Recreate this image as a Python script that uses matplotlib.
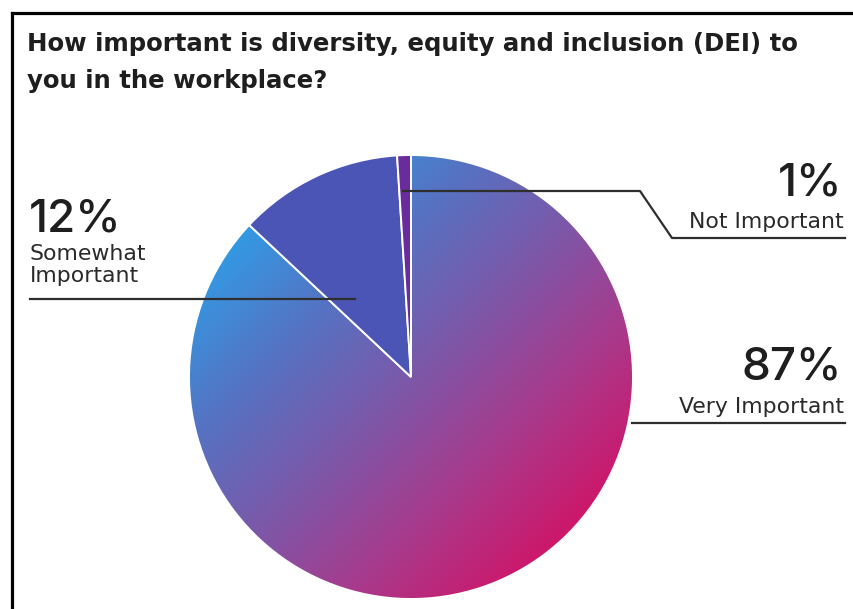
import numpy as np
import matplotlib
matplotlib.use("Agg")
import matplotlib.pyplot as plt
from matplotlib.colors import LinearSegmentedColormap

# Survey results
categories = ["Very Important", "Somewhat\nImportant", "Not Important"]
shares = [87, 12, 1]
slice_colors = [None, "#4b55b5", "#6a2c9c"]
title = "How important is diversity, equity and inclusion (DEI) to\nyou in the workplace?"

W, H = 854, 609
NUM_FONT = ["Inter", "DejaVu Sans"]
TXT_FONT = ["DejaVu Sans"]
TXT = "#1e1e1e"


def Y(py):
    """Convert a top-down pixel row to the axes' bottom-up coordinate."""
    return H - py


fig = plt.figure(figsize=(W / 100, H / 100), dpi=100)
ax = fig.add_axes([0, 0, 1, 1])
renderer = fig.canvas.get_renderer()


def fit_width(txt, width_px):
    """Scale a text's font size so that it spans the given width in pixels."""
    ext = txt.get_window_extent(renderer=renderer)
    txt.set_fontsize(txt.get_fontsize() * width_px / ext.width)


cx, cy, r = 411, Y(377), 222

wedges, _ = ax.pie(
    shares,
    startangle=90,
    counterclock=False,
    center=(cx, cy),
    radius=r,
    colors=["none", slice_colors[1], slice_colors[2]],
    wedgeprops=dict(edgecolor="white", linewidth=1.4),
    frame=True,
)

# Diagonal blue-to-magenta gradient filling the largest slice
grad_cmap = LinearSegmentedColormap.from_list(
    "dei",
    [(0.0, "#3399e3"), (0.25, "#5672c2"), (0.5, "#7c58a9"),
     (0.75, "#a83a8c"), (1.0, "#cd176a")],
)
N = 600
xs = np.linspace(cx - r, cx + r, N)
ys = np.linspace(cy + r, cy - r, N)
X, Yg = np.meshgrid(xs, ys)
s = ((X - cx) - (Yg - cy)) / (np.sqrt(2) * r)
t = np.clip((s + 1) / 2, 0, 1)
img = ax.imshow(t, cmap=grad_cmap, vmin=0, vmax=1, origin="upper",
                extent=(cx - r, cx + r, cy - r, cy + r),
                interpolation="bilinear", zorder=1)
img.set_clip_path(wedges[0])
for w in wedges:
    w.set_zorder(2)

ax.set_xlim(0, W)
ax.set_ylim(0, H)
ax.set_aspect("auto")
ax.axis("off")

# Outer frame (left and top edges)
ax.plot([12, 12], [Y(13), Y(H + 5)], color="black", lw=2.3, solid_capstyle="projecting", zorder=5)
ax.plot([12, W + 5], [Y(13), Y(13)], color="black", lw=2.3, solid_capstyle="projecting", zorder=5)

# Title
lines = title.split("\n")
t1 = ax.text(27, Y(51), lines[0], fontsize=16, fontweight="bold", family=TXT_FONT,
             color=TXT, ha="left", va="baseline")
fit_width(t1, 776)
ax.text(27, Y(88), lines[1], fontsize=t1.get_fontsize(), fontweight="bold",
        family=TXT_FONT, color=TXT, ha="left", va="baseline")

lc = "#2e2e2e"
llw = 1.6
lab_col = "#2a2a2a"

# Very Important (sets the size shared by all category labels)
ax.text(842, Y(380), f"{shares[0]}%", fontsize=33, fontweight="medium",
        family=NUM_FONT, color=TXT, ha="right", va="baseline")
v_lab = ax.text(844, Y(413), categories[0], fontsize=15, family=TXT_FONT,
                color=lab_col, ha="right", va="baseline")
fit_width(v_lab, 165)
lab_fs = v_lab.get_fontsize()
ax.plot([632, 845], [Y(423), Y(423)], color=lc, lw=llw, zorder=4)

# Somewhat Important
ax.text(29, Y(231), f"{shares[1]}%", fontsize=33, fontweight="medium",
        family=NUM_FONT, color=TXT, ha="left", va="baseline")
s_lines = categories[1].split("\n")
ax.text(30, Y(260), s_lines[0], fontsize=lab_fs, family=TXT_FONT, color=lab_col,
        ha="left", va="baseline")
ax.text(30, Y(282), s_lines[1], fontsize=lab_fs, family=TXT_FONT, color=lab_col,
        ha="left", va="baseline")
ax.plot([30, 355], [Y(299), Y(299)], color=lc, lw=llw, zorder=4)

# Not Important
ax.text(842, Y(195), f"{shares[2]}%", fontsize=33, fontweight="medium",
        family=NUM_FONT, color=TXT, ha="right", va="baseline")
ax.text(844, Y(228), categories[2], fontsize=lab_fs, family=TXT_FONT, color=lab_col,
        ha="right", va="baseline")
ax.plot([403, 640, 672, 845], [Y(191), Y(191), Y(238), Y(238)],
        color=lc, lw=llw, zorder=4)

fig.savefig("out.png", dpi=100, facecolor="white")
